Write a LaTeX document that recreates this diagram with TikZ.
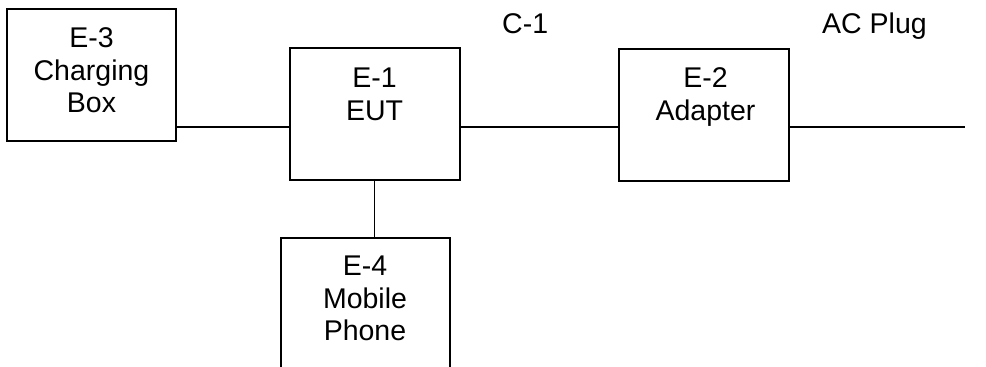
\documentclass[tikz,border=0pt]{standalone}
\usepackage{fontspec}
\setmainfont{Liberation Sans}
\usetikzlibrary{calc}
\begin{document}
\begin{tikzpicture}[x=1pt,y=-1pt,
  unitbox/.style={draw=black,line width=2pt,fill=white,rectangle,inner sep=0pt,minimum width=#1},
  lbl/.style={align=center,inner sep=0pt,font=\fontsize{28.5}{32.8}\selectfont},
  wire/.style={line width=1.6pt}]
\useasboundingbox (0,0) rectangle (986,367);
\clip (0,0) rectangle (986,367);
\fill[white] (0,0) rectangle (986,367);
% boxes
\node[unitbox=169pt,minimum height=132pt] (e3) at (91.5,75) {};
\node[unitbox=170pt,minimum height=132pt] (e1) at (374.5,114) {};
\node[unitbox=170pt,minimum height=132pt] (e2) at (703.5,114.5) {};
\node[unitbox=169pt,minimum height=160pt] (e4) at (365,318) {};
% labels inside boxes (first baseline = north + 22 + offset)
\node[lbl,anchor=north] (t3) at ($(e3.north)+(0,17)$) {\rule{0pt}{22pt}E-3\\Charging\\Box};
\node[lbl,anchor=north] (t1) at ($(e1.north)+(0,18)$) {\rule{0pt}{22pt}E-1\\EUT};
\node[lbl,anchor=north] (t2) at ($(e2.north)+(2,18)$) {\rule{0pt}{22pt}E-2\\Adapter};
\node[lbl,anchor=north] (t4) at ($(e4.north)+(0,16)$) {\rule{0pt}{22pt}E-4\\Mobile\\Phone};
% cable labels
\node[lbl,anchor=base west] (c1) at (502,33) {C-1};
\node[lbl,anchor=base west] (ac) at (822,33) {AC Plug};
% connectors
\coordinate (lv) at (0,127);
\coordinate (plug) at (965,127);
\draw[wire] (e3.east |- lv) -- (e1.west |- lv);
\draw[wire] (e1.east |- lv) -- (e2.west |- lv);
\draw[wire] (e2.east |- lv) -- (plug);
\draw[wire] (e1.south) -- (e1.south |- e4.north);
\end{tikzpicture}
\end{document}
